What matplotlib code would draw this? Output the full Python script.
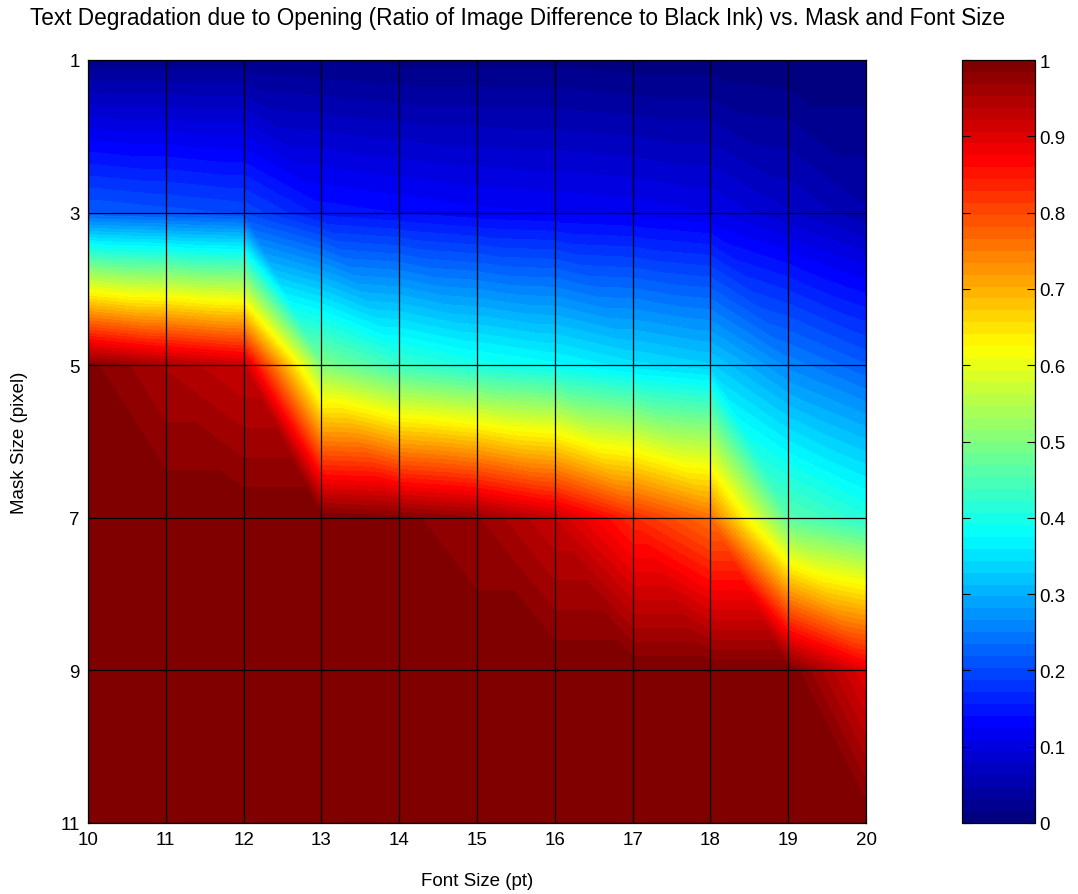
import numpy as np
import matplotlib
matplotlib.use('Agg')
import matplotlib.pyplot as plt
import matplotlib.tri as mtri
from matplotlib.colors import LinearSegmentedColormap, Normalize
from matplotlib.cm import ScalarMappable

plt.rcParams['font.family'] = ['Liberation Sans', 'DejaVu Sans']

#font sizes (pt) on x, mask sizes (pixel) on y
font_sizes = [10, 11, 12, 13, 14, 15, 16, 17, 18, 19, 20]
mask_sizes = [1, 3, 5, 7, 9, 11]

#ratio of image difference to black ink, one row per mask size
ratio_m1 = [0.02, 0.02, 0.02, 0.015, 0.01, 0.01, 0.01, 0.005, 0.005, 0.0, 0.0]
ratio_m3 = [0.22, 0.21, 0.20, 0.15, 0.14, 0.13, 0.125, 0.12, 0.11, 0.08, 0.05]
ratio_m5 = [0.99, 0.95, 0.92, 0.50, 0.43, 0.40, 0.38, 0.35, 0.33, 0.26, 0.22]
ratio_m7 = [1.0, 1.0, 1.0, 1.0, 0.99, 0.97, 0.92, 0.83, 0.76, 0.46, 0.41]
ratio_m9 = [1.0, 1.0, 1.0, 1.0, 1.0, 1.0, 1.0, 1.0, 1.0, 1.0, 0.89]
ratio_m11 = [1.0, 1.0, 1.0, 1.0, 1.0, 1.0, 1.0, 1.0, 1.0, 1.0, 1.0]

title = 'Text Degradation due to Opening (Ratio of Image Difference to Black Ink) vs. Mask and Font Size'

Z = np.array([ratio_m1, ratio_m3, ratio_m5, ratio_m7, ratio_m9, ratio_m11])
X, Y = np.meshgrid(font_sizes, mask_sizes)

#split every grid cell into two triangles, like the surface renderer does
nx = len(font_sizes)
ny = len(mask_sizes)
tris = []
for j in range(ny - 1):
    for i in range(nx - 1):
        a = j*nx + i
        b = a + 1
        c = a + nx
        d = c + 1
        tris.append([a, b, d])
        tris.append([a, c, d])
tri = mtri.Triangulation(X.ravel(), Y.ravel(), np.array(tris))

#matlab style jet with 64 entries
jet_data = {
    'red':   [(0, 0, 0), (0.375, 0, 0), (0.625, 1, 1), (0.875, 1, 1), (1, 0.5, 0.5)],
    'green': [(0, 0, 0), (0.125, 0, 0), (0.375, 1, 1), (0.625, 1, 1), (0.875, 0, 0), (1, 0, 0)],
    'blue':  [(0, 0.5, 0.5), (0.125, 1, 1), (0.375, 1, 1), (0.625, 0, 0), (1, 0, 0)],
}
jet64 = LinearSegmentedColormap('mjet', jet_data, N=64)
norm = Normalize(0, 1)
levels = np.linspace(0, 1, 65)
levels[0] = -1e-6
levels[-1] = 1 + 1e-6

fig = plt.figure(figsize=(10.78, 8.95), dpi=100)
ax = fig.add_axes([88/1078, 1 - 824/895, (866-88)/1078, (824-61)/895])
ax.tricontourf(tri, Z.ravel(), levels=levels, cmap=jet64, norm=norm)

ax.set_xlim(10, 20)
ax.set_ylim(11, 1)
ax.set_xticks(font_sizes)
ax.set_yticks(mask_sizes)
ax.grid(True, color='black', linewidth=0.9, linestyle='-')
ax.set_axisbelow(False)
ax.tick_params(direction='in', length=0, labelsize=13.5, pad=6)
for s in ax.spines.values():
    s.set_linewidth(0.9)
ax.set_xlabel('Font Size (pt)', fontsize=13.5, labelpad=17)
ax.set_ylabel('Mask Size (pixel)', fontsize=13.5, labelpad=23)

fig.text(0.48, 1 - 18/895, title, ha='center', va='center', fontsize=16.3)

cax = fig.add_axes([962/1078, 1 - 824/895, (1035-962)/1078, (824-61)/895])
sm = ScalarMappable(norm=norm, cmap=jet64)
cb = fig.colorbar(sm, cax=cax, ticks=np.linspace(0, 1, 11))
cb.ax.set_yticklabels(['0', '0.1', '0.2', '0.3', '0.4', '0.5', '0.6', '0.7', '0.8', '0.9', '1'])
cb.ax.tick_params(direction='in', left=True, right=True, length=6, width=0.8, labelsize=13.5, pad=3)
cb.outline.set_linewidth(0.9)

fig.savefig('out.png', dpi=100)
